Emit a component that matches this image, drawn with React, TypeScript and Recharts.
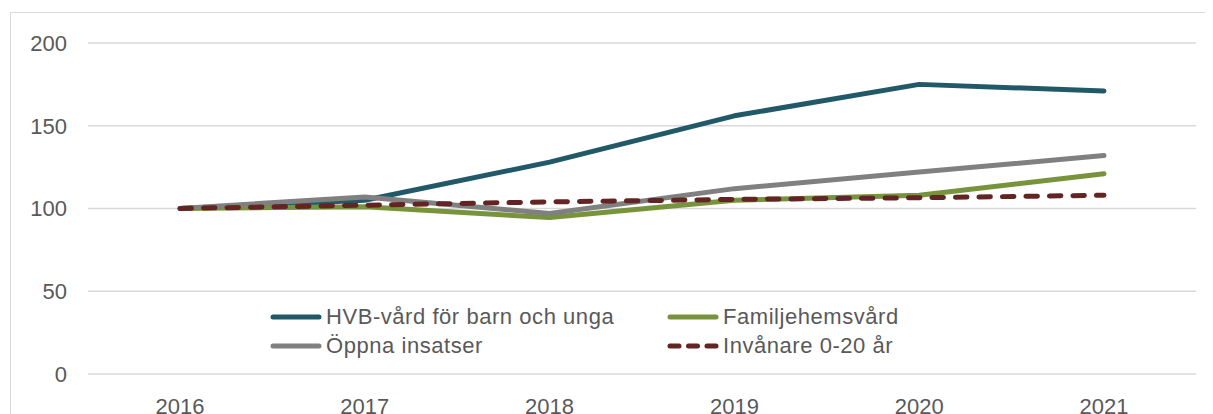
import { CartesianGrid, Legend, Line, LineChart, XAxis, YAxis } from "recharts";

const years = ["2016", "2017", "2018", "2019", "2020", "2021"];
const hvb = [100, 105, 128, 156, 175, 171];
const familj = [100, 101, 94.5, 105, 108, 121];
const oppna = [100, 107, 97, 112, 122, 132];
const invanare = [100, 102, 104, 105.5, 106.5, 108];
const yTicks = [0, 50, 100, 150, 200];

const series = [
  { key: "hvb", name: "HVB-vård för barn och unga", color: "#215968", dash: undefined },
  { key: "familj", name: "Familjehemsvård", color: "#77933c", dash: undefined },
  { key: "oppna", name: "Öppna insatser", color: "#808080", dash: undefined },
  { key: "invanare", name: "Invånare 0-20 år", color: "#632523", dash: "11.5 12" },
];

const data = years.map((year, i) => ({
  year,
  hvb: hvb[i],
  familj: familj[i],
  oppna: oppna[i],
  invanare: invanare[i],
}));

const font = "'Liberation Sans', Arial, sans-serif";
const textColor = "#595959";

function LegendBox() {
  return (
    <div
      style={{
        display: "grid",
        gridTemplateColumns: "397px 280px",
        rowGap: 5,
        fontFamily: font,
        fontSize: 22,
        letterSpacing: 0.55,
        color: textColor,
      }}
    >
      {series.map((s) => (
        <div key={s.key} style={{ display: "flex", alignItems: "center", height: 24 }}>
          <svg width={52} height={10} style={{ marginRight: 4 }}>
            <line
              x1={3}
              y1={5}
              x2={49}
              y2={5}
              stroke={s.color}
              strokeWidth={5}
              strokeLinecap="round"
              strokeDasharray={s.dash ? "9 9.5" : undefined}
            />
          </svg>
          <span>{s.name}</span>
        </div>
      ))}
    </div>
  );
}

export default function App() {
  return (
    <div
      style={{
        marginLeft: 2,
        marginTop: 4,
        width: 1230,
        height: 460,
        borderLeft: "1px solid #d9d9d9",
        borderTop: "1px solid #d9d9d9",
        overflow: "hidden",
      }}
    >
      <LineChart
        width={1210}
        height={440}
        data={data}
        margin={{ top: 30, right: 25, bottom: 49, left: 0 }}
      >
        <CartesianGrid vertical={false} stroke="#d9d9d9" strokeWidth={1.5} />
        <XAxis
          dataKey="year"
          axisLine={false}
          tickLine={false}
          tickSize={0}
          tickMargin={24}
          padding={{ left: 92, right: 92 }}
          tick={{ fill: textColor, fontSize: 22, fontFamily: font }}
          interval={0}
        />
        <YAxis
          domain={[0, 200]}
          ticks={yTicks}
          width={77}
          axisLine={false}
          tickLine={false}
          tickSize={0}
          tickMargin={21}
          tick={{ fill: textColor, fontSize: 22, fontFamily: font }}
        />
        <Legend
          layout="horizontal"
          align="center"
          verticalAlign="middle"
          wrapperStyle={{ top: 292, left: 259, width: 680 }}
          content={() => <LegendBox />}
        />
        {series.map((s) => (
          <Line
            key={s.key}
            type="linear"
            dataKey={s.key}
            name={s.name}
            stroke={s.color}
            strokeWidth={5}
            strokeDasharray={s.dash}
            strokeLinecap="round"
            strokeLinejoin="round"
            dot={false}
            activeDot={false}
            isAnimationActive={false}
          />
        ))}
      </LineChart>
    </div>
  );
}
